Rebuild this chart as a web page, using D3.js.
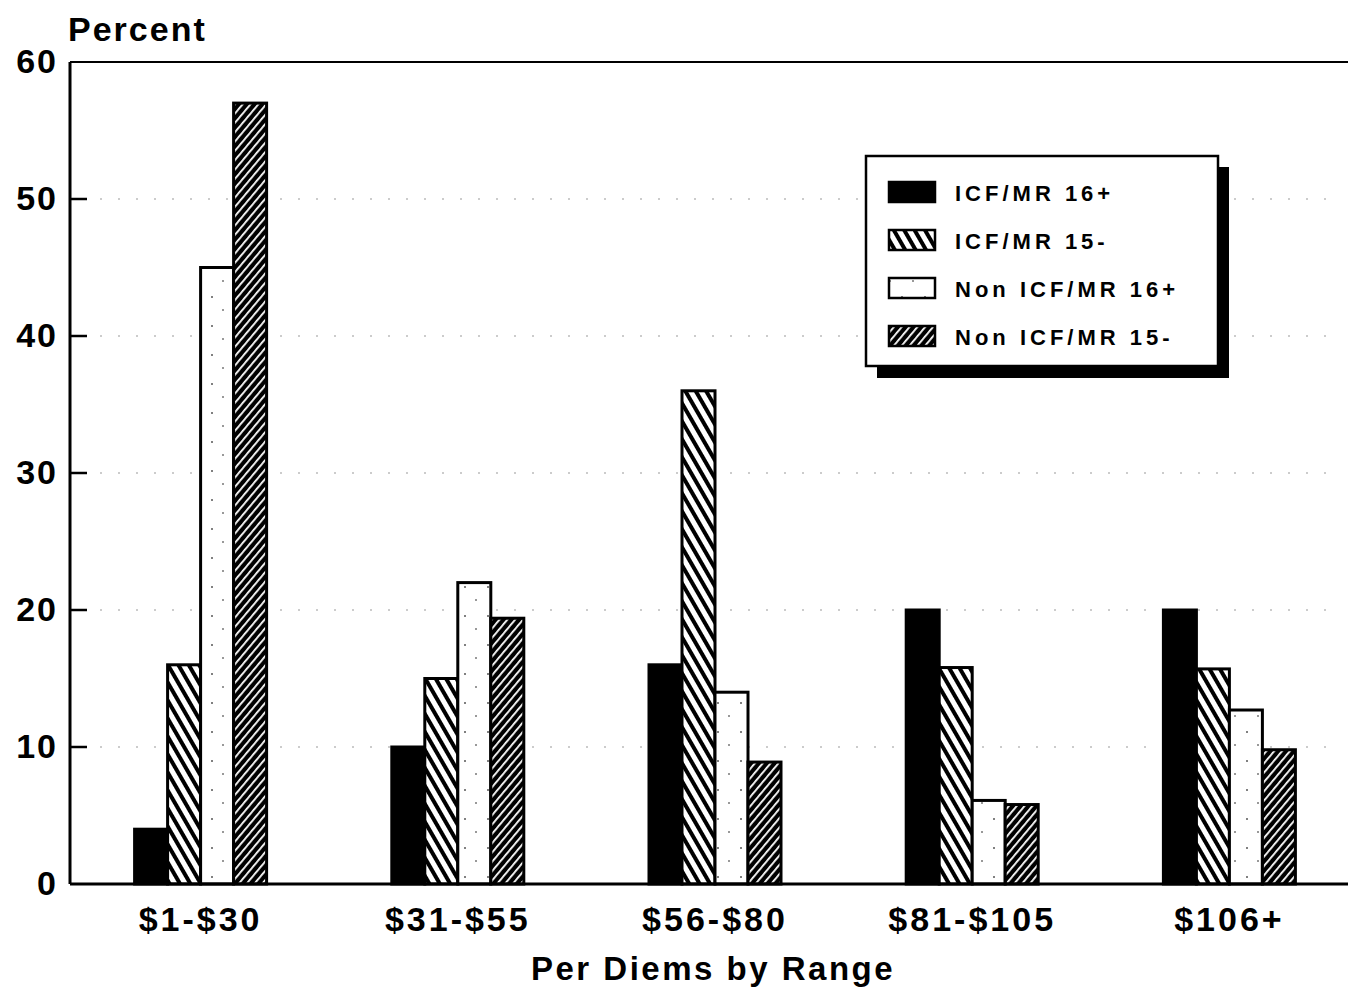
<!DOCTYPE html>
<html><head><meta charset="utf-8">
<script src="https://cdn.jsdelivr.net/npm/d3@7"></script>
<style>
body{margin:0;background:#fff;}
text{font-family:"Liberation Sans",Arial,sans-serif;font-weight:bold;fill:#000;}
</style></head>
<body><svg id="c" width="1348" height="990"></svg>
<script>
const categories = ["$1-$30","$31-$55","$56-$80","$81-$105","$106+"];
const seriesNames = ["ICF/MR 16+","ICF/MR 15-","Non ICF/MR 16+","Non ICF/MR 15-"];
const icf16 = [4, 10, 16, 20, 20];
const icf15 = [16, 15, 36, 15.8, 15.7];
const non16 = [45, 22, 14, 6.1, 12.7];
const non15 = [57, 19.4, 8.9, 5.8, 9.8];
const yTicks = [0,10,20,30,40,50,60];
const seriesValues = [icf16, icf15, non16, non15];

const svg = d3.select("#c");
const defs = svg.append("defs");
const p1 = defs.append("pattern").attr("id","pHatch").attr("patternUnits","userSpaceOnUse")
  .attr("width",9).attr("height",9).attr("patternTransform","rotate(-30)");
p1.append("rect").attr("width",9).attr("height",9).attr("fill","#fff");
p1.append("rect").attr("x",0).attr("width",4).attr("height",9).attr("fill","#000");
const p2 = defs.append("pattern").attr("id","pDark").attr("patternUnits","userSpaceOnUse")
  .attr("width",6).attr("height",6).attr("patternTransform","rotate(40)");
p2.append("rect").attr("width",6).attr("height",6).attr("fill","#000");
p2.append("rect").attr("x",0).attr("width",1.8).attr("height",6).attr("fill","#fff");
const p3 = defs.append("pattern").attr("id","pDots").attr("patternUnits","userSpaceOnUse")
  .attr("width",23).attr("height",29);
p3.append("rect").attr("width",23).attr("height",29).attr("fill","#fff");
p3.append("circle").attr("cx",5).attr("cy",7).attr("r",1).attr("fill","#555");
p3.append("circle").attr("cx",16).attr("cy",20).attr("r",1).attr("fill","#777");
const fills = ["#000","url(#pHatch)","url(#pDots)","url(#pDark)"];

const y = d3.scaleLinear().domain([0,60]).range([884,62]);
const x = d3.scaleBand().domain(categories).range([72,1358]).padding(0);
const xs = d3.scaleBand().domain(d3.range(4)).range([0,132]);

const g = svg.append("g");
g.selectAll("line.grid").data([10,20,30,40,50]).join("line")
  .attr("x1",100).attr("x2",1330).attr("y1",d=>y(d)).attr("y2",d=>y(d))
  .attr("stroke","#999").attr("stroke-width",1.2).attr("stroke-dasharray","2,16");

seriesValues.forEach((vals,si)=>{
  svg.append("g").selectAll("rect").data(vals).join("rect")
    .attr("x",(d,i)=>x(categories[i])+x.bandwidth()/2-66+xs(si))
    .attr("width",xs.bandwidth())
    .attr("y",d=>y(d)).attr("height",d=>y(0)-y(d))
    .attr("fill",fills[si]).attr("stroke","#000").attr("stroke-width",3);
});

svg.append("line").attr("x1",70).attr("x2",1348).attr("y1",y(0)).attr("y2",y(0)).attr("stroke","#000").attr("stroke-width",3);
svg.append("line").attr("x1",70).attr("x2",1348).attr("y1",y(60)).attr("y2",y(60)).attr("stroke","#000").attr("stroke-width",2);
svg.append("line").attr("x1",70).attr("x2",70).attr("y1",y(60)).attr("y2",y(0)).attr("stroke","#000").attr("stroke-width",3);
const yAxis = d3.axisLeft(y).tickValues(yTicks).tickSize(0).tickPadding(12);
const ya = svg.append("g").attr("transform","translate(70,0)").call(yAxis);
ya.select(".domain").remove();
ya.selectAll("text").style("font-size","34px").style("font-family","Liberation Sans, Arial, sans-serif").style("font-weight","bold").attr("letter-spacing","2");
svg.append("g").selectAll("line").data(yTicks.slice(1,6)).join("line")
  .attr("x1",70).attr("x2",87).attr("y1",d=>y(d)).attr("y2",d=>y(d)).attr("stroke","#000").attr("stroke-width",2.5);

const xAxis = d3.axisBottom(x).tickSize(0).tickPadding(23);
const xa = svg.append("g").attr("transform",`translate(0,${y(0)})`).call(xAxis);
xa.select(".domain").remove();
xa.selectAll("text").style("font-size","34px").style("font-family","Liberation Sans, Arial, sans-serif").style("font-weight","bold").attr("letter-spacing","3");

svg.append("text").attr("x",68).attr("y",41).style("font-size","34px").attr("letter-spacing","2").text("Percent");
svg.append("text").attr("x",713).attr("y",980).attr("text-anchor","middle").style("font-size","33px").attr("letter-spacing","2.5").text("Per Diems by Range");

const lg = svg.append("g");
lg.append("rect").attr("x",877).attr("y",167).attr("width",352).attr("height",211).attr("fill","#000");
lg.append("rect").attr("x",866).attr("y",156).attr("width",352).attr("height",210).attr("fill","#fff").attr("stroke","#000").attr("stroke-width",2.5);
seriesNames.forEach((s,i)=>{
  const yy = 182 + i*48;
  lg.append("rect").attr("x",889).attr("y",yy).attr("width",46).attr("height",20).attr("fill",fills[i]).attr("stroke","#000").attr("stroke-width",2.5);
  lg.append("text").attr("x",955).attr("y",yy+19).style("font-size","22px").attr("letter-spacing","4").text(s);
});
</script></body></html>
